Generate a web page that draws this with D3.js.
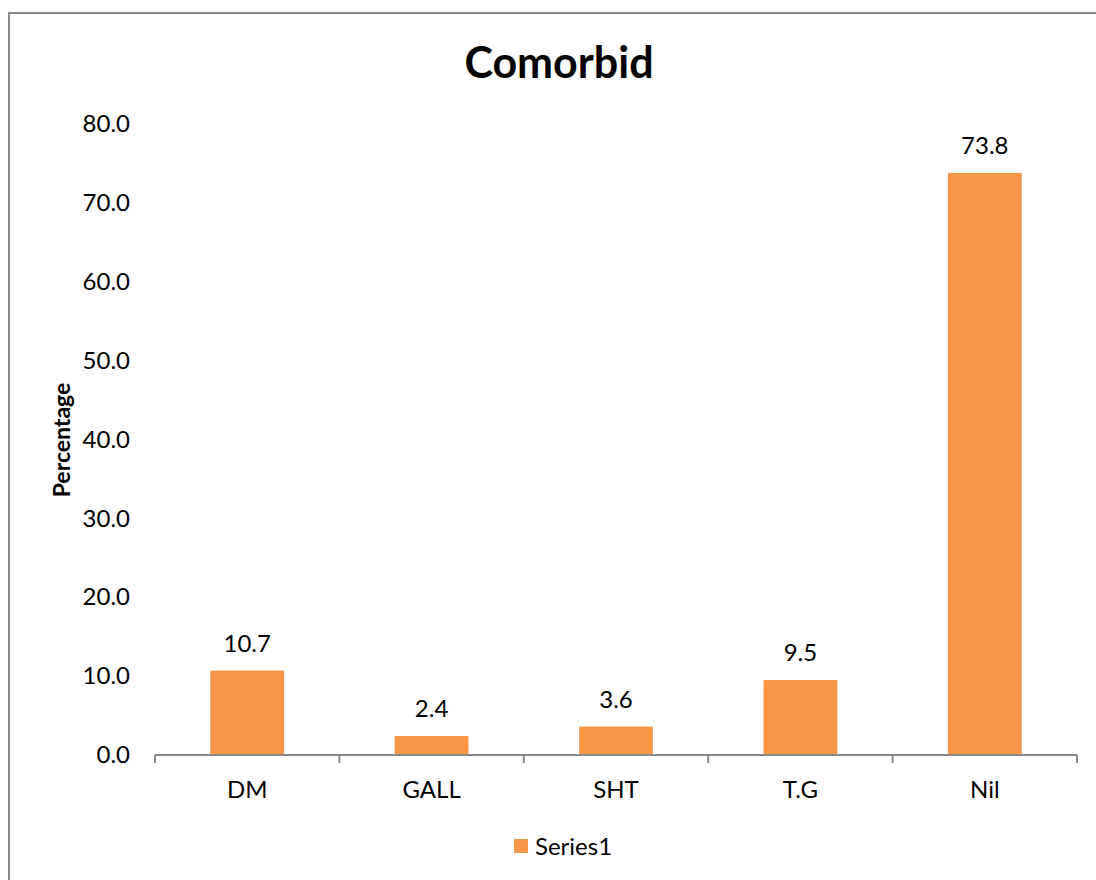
<!DOCTYPE html>
<html>
<head>
<meta charset="utf-8">
<script src="https://cdn.jsdelivr.net/npm/d3@7"></script>
<style>
  html, body { margin: 0; padding: 0; background: #fff; overflow: hidden; }
  svg { display: block; font-family: Lato, "Open Sans", sans-serif; }
</style>
</head>
<body>
<svg id="chart" width="1096" height="880"></svg>
<script>
// Comorbidity share (%) per category
const categories = ["DM", "GALL", "SHT", "T.G", "Nil"];
const percentages = [10.7, 2.4, 3.6, 9.5, 73.8];
const yTicks = [0, 10, 20, 30, 40, 50, 60, 70, 80];
const seriesName = "Series1";
const chartTitle = "Comorbid";
const yAxisTitle = "Percentage";

const W = 1096, H = 880;
const plot = { left: 155, right: 1077, top: 124, bottom: 755 };
const barColor = "#F79646";
const axisColor = "#898989";
const fontSize = 24;

const svg = d3.select("#chart");

// chart area frame: only the left and top edges fall inside the page
svg.append("path")
  .attr("d", `M9,${H} V13 H${W}`)
  .attr("fill", "none")
  .attr("stroke", "#898989").attr("stroke-width", 2);

const x = d3.scaleBand()
  .domain(categories)
  .range([plot.left, plot.right])
  .paddingInner(0.6).paddingOuter(0.3);

const y = d3.scaleLinear()
  .domain([0, 80])
  .range([plot.bottom, plot.top]);

// bars
svg.append("g").selectAll("rect")
  .data(categories)
  .join("rect")
  .attr("x", d => x(d))
  .attr("width", x.bandwidth())
  .attr("y", (d, i) => y(percentages[i]))
  .attr("height", (d, i) => y(0) - y(percentages[i]))
  .attr("fill", barColor);

// value labels
svg.append("g").selectAll("text")
  .data(categories)
  .join("text")
  .attr("x", d => x(d) + x.bandwidth() / 2)
  .attr("y", (d, i) => y(percentages[i]) - 19)
  .attr("text-anchor", "middle")
  .attr("font-size", fontSize)
  .attr("fill", "#000")
  .text((d, i) => percentages[i].toFixed(1));

// y axis (labels only)
const yAxis = d3.axisLeft(y)
  .tickValues(yTicks)
  .tickFormat(d3.format(".1f"))
  .tickSize(0)
  .tickPadding(25);
const gy = svg.append("g")
  .attr("transform", `translate(${plot.left},0)`)
  .call(yAxis);
gy.select(".domain").remove();
gy.selectAll("text")
  .attr("font-size", fontSize)
  .attr("font-family", "Lato, 'Open Sans', sans-serif")
  .attr("fill", "#000");

// x axis with boundary ticks between categories
const step = x.step();
const boundaries = d3.range(categories.length + 1).map(i => plot.left + i * step);
const gx = svg.append("g");
gx.append("line")
  .attr("x1", plot.left).attr("x2", plot.right)
  .attr("y1", plot.bottom).attr("y2", plot.bottom)
  .attr("stroke", axisColor).attr("stroke-width", 2);
gx.selectAll("line.tick")
  .data(boundaries)
  .join("line")
  .attr("class", "tick")
  .attr("x1", d => d).attr("x2", d => d)
  .attr("y1", plot.bottom).attr("y2", plot.bottom + 8)
  .attr("stroke", axisColor).attr("stroke-width", 2);
gx.selectAll("text")
  .data(categories)
  .join("text")
  .attr("x", d => x(d) + x.bandwidth() / 2)
  .attr("y", 798)
  .attr("text-anchor", "middle")
  .attr("font-size", fontSize)
  .attr("fill", "#000")
  .text(d => d);

// title
svg.append("text")
  .attr("x", 559).attr("y", 78)
  .attr("text-anchor", "middle")
  .attr("font-size", 43)
  .attr("font-weight", "bold")
  .attr("fill", "#000")
  .text(chartTitle);

// y axis title
svg.append("text")
  .attr("transform", "translate(70,440) rotate(-90)")
  .attr("text-anchor", "middle")
  .attr("font-size", 23)
  .attr("font-weight", "bold")
  .attr("fill", "#000")
  .text(yAxisTitle);

// legend
const legend = svg.append("g");
legend.append("rect")
  .attr("x", 514).attr("y", 839)
  .attr("width", 14).attr("height", 14)
  .attr("fill", barColor);
legend.append("text")
  .attr("x", 535).attr("y", 855)
  .attr("font-size", fontSize)
  .attr("fill", "#000")
  .text(seriesName);
</script>
</body>
</html>
